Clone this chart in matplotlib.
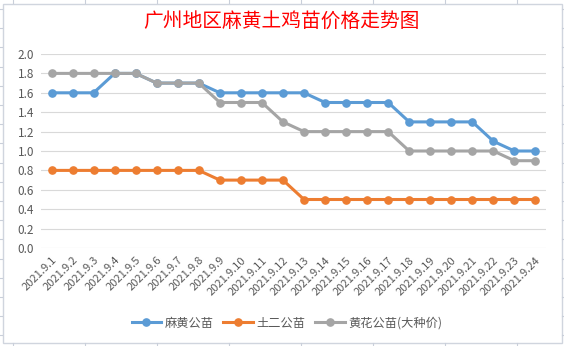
import numpy as np
import matplotlib
matplotlib.use("Agg")
import matplotlib.pyplot as plt
from matplotlib.lines import Line2D
from matplotlib.patches import Rectangle

plt.rcParams['font.family'] = ['Noto Sans CJK SC', 'DejaVu Sans']

## the data
dates = ["2021.9.%d" % d for d in range(1, 25)]
mahuang = [1.6, 1.6, 1.6, 1.8, 1.8, 1.7, 1.7, 1.7, 1.6, 1.6, 1.6, 1.6,
           1.6, 1.5, 1.5, 1.5, 1.5, 1.3, 1.3, 1.3, 1.3, 1.1, 1.0, 1.0]
tuer = [0.8, 0.8, 0.8, 0.8, 0.8, 0.8, 0.8, 0.8, 0.7, 0.7, 0.7, 0.7,
        0.5, 0.5, 0.5, 0.5, 0.5, 0.5, 0.5, 0.5, 0.5, 0.5, 0.5, 0.5]
huanghua = [1.8, 1.8, 1.8, 1.8, 1.8, 1.7, 1.7, 1.7, 1.5, 1.5, 1.5, 1.3,
            1.2, 1.2, 1.2, 1.2, 1.2, 1.0, 1.0, 1.0, 1.0, 1.0, 0.9, 0.9]
series_names = ["麻黄公苗", "土二公苗", "黄花公苗(大种价)"]
colors = ["#5B9BD5", "#ED7D31", "#A5A5A5"]
yticks = [0.0, 0.2, 0.4, 0.6, 0.8, 1.0, 1.2, 1.4, 1.6, 1.8, 2.0]

W, H = 564, 346
fig = plt.figure(figsize=(W / 100, H / 100), dpi=100)

## spreadsheet grid stubs outside the chart box
cell_line = "#C9CFDA"
for x in np.arange(13, W, 72):
    fig.add_artist(Line2D([x / W, x / W], [1 - 3 / H, 1], color=cell_line, lw=0.8))
    fig.add_artist(Line2D([x / W, x / W], [0, 3 / H], color=cell_line, lw=0.8))
for y in np.arange(9, H, 19.2):
    fig.add_artist(Line2D([0, 2 / W], [1 - y / H, 1 - y / H], color=cell_line, lw=0.8))
    fig.add_artist(Line2D([562 / W, 1], [1 - y / H, 1 - y / H], color=cell_line, lw=0.8))
fig.add_artist(Rectangle((2.5 / W, 3.5 / H), 559 / W, 339 / H, fill=False,
                         edgecolor="#D0D5DE", lw=1.0))

ax = fig.add_axes([41 / W, (H - 248) / H, 505 / W, 194 / H])
x = np.arange(len(dates))
for vals, name, c in zip([mahuang, tuer, huanghua], series_names, colors):
    ax.plot(x, vals, color=c, lw=2.2, marker="o", markersize=5.2, label=name)

ax.set_xlim(-0.5, len(dates) - 0.5)
ax.set_ylim(0, 2.0)
ax.set_yticks(yticks)
ax.set_yticklabels(["%.1f" % v for v in yticks], fontsize=8.5, color="#595959")
ax.set_xticks(x)
ax.set_xticklabels(dates, rotation=45, ha="right", rotation_mode="anchor",
                   fontsize=8, color="#595959")
ax.tick_params(length=0, pad=5)
ax.grid(axis="y", color="#D9D9D9", lw=0.8)
ax.set_axisbelow(True)
for s in ax.spines.values():
    s.set_visible(False)

fig.text(281 / W, 1 - 22 / H, "广州地区麻黄土鸡苗价格走势图", color="#FF0000",
         fontsize=14.2, ha="center", va="center")

fig.legend(loc="center", bbox_to_anchor=(287 / W, 1 - 323 / H), ncol=3,
           frameon=False, fontsize=8.8, handlelength=2.4, columnspacing=0.8,
           handletextpad=0.3, labelcolor="#595959")

fig.savefig("out.png", dpi=100)
